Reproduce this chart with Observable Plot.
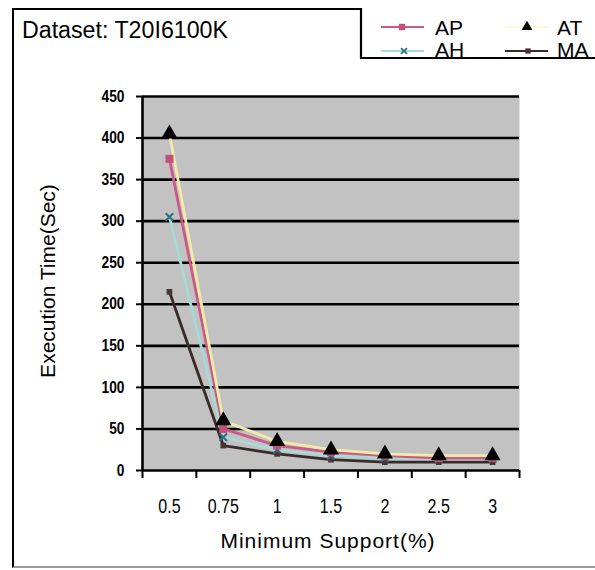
<!DOCTYPE html>
<html>
<head>
<meta charset="utf-8">
<script src="https://cdn.jsdelivr.net/npm/d3@7"></script>
<script src="https://cdn.jsdelivr.net/npm/@observablehq/plot@0.6"></script>
<style>
  html, body { margin: 0; padding: 0; background: #fff; }
  #wrap { position: relative; width: 595px; height: 570px; overflow: hidden; font-family: "Liberation Sans", Arial, sans-serif; }
  #frame { position: absolute; left: 12px; top: 8px; width: 620px; height: 560px; box-sizing: border-box;
           border: 2px solid #000; border-bottom-color: #9a9a9a; }
  #wrap > svg { position: absolute; left: 0; top: 0; }
</style>
</head>
<body>
<div id="wrap"><div id="frame"></div></div>
<script>
// ---- data ----
const categories = ["0.5", "0.75", "1", "1.5", "2", "2.5", "3"];
const seriesNames = ["AP", "AT", "AH", "MA"];
const AP = [375, 50, 30, 22, 18, 15, 15];
const AT = [405, 60, 35, 25, 20, 18, 18];
const AH = [305, 40, 25, 18, 15, 14, 14];
const MA = [215, 30, 20, 13, 10, 10, 10];
const yTicks = [0, 50, 100, 150, 200, 250, 300, 350, 400, 450];
const titleText = "Dataset: T20I6100K";
const xTitle = "Minimum Support(%)";
const yTitle = "Execution Time(Sec)";

// ---- styles ----
const styles = {
  AP: {line: "#cc5a88", marker: "#c44e7c", symbol: "square", r: 4.5, lr: 3.6},
  AT: {line: "#f2eaa6", marker: "#000000", symbol: "triangle", r: 6, lr: 4},
  AH: {line: "#a6dad6", marker: "#2f6f7f", symbol: "times", r: 3.5, lr: 2.8},
  MA: {line: "#3b2a2a", marker: "#4a3434", symbol: "square", r: 3.2, lr: 3}
};
const values = {AP, AT, AH, MA};
const rows = [];
for (const s of seriesNames) values[s].forEach((v, i) => rows.push({series: s, i, cat: categories[i], v}));

const drawOrder = ["MA", "AH", "AP", "AT"];
const lineMarks = drawOrder.map(s => Plot.line(rows.filter(d => d.series === s), {
  x: "i", y: "v", stroke: styles[s].line, strokeWidth: 2.8, curve: "linear"
}));
const dotMarks = drawOrder.map(s => {
  const st = styles[s];
  const isStroke = st.symbol === "times";
  return Plot.dot(rows.filter(d => d.series === s), {
    x: "i", y: "v", symbol: st.symbol, r: st.r,
    fill: isStroke ? "none" : st.marker,
    stroke: isStroke ? st.marker : "none",
    strokeWidth: isStroke ? 2 : 0
  });
});

const chart = Plot.plot({
  width: 595, height: 570,
  marginLeft: 142, marginRight: 76, marginTop: 96, marginBottom: 100,
  x: {type: "linear", domain: [-0.5, categories.length - 0.5]},
  y: {domain: [0, 450]},
  style: {background: "transparent", fontFamily: "'Liberation Sans', Arial, sans-serif", color: "#000", overflow: "visible"},
  marks: [
    Plot.frame({fill: "#c2c2c2", stroke: "none"}),
    Plot.ruleY(yTicks.filter(d => d > 0), {stroke: "#000", strokeWidth: 2.6}),
    ...lineMarks,
    ...dotMarks,
    Plot.ruleY([0], {stroke: "#000", strokeWidth: 2.6}),
    Plot.ruleX([-0.5], {stroke: "#000", strokeWidth: 2.6}),
    Plot.axisY({ticks: yTicks, tickSize: 6, tickPadding: 12, strokeWidth: 2, label: null}),
    Plot.axisX({ticks: d3.range(-0.5, categories.length, 1), tickSize: 8, strokeWidth: 2, tickFormat: () => "", label: null}),
    Plot.axisX({ticks: d3.range(0, categories.length), tickSize: 0, tickPadding: 28,
                tickFormat: i => categories[i], label: null})
  ]
});
document.getElementById("wrap").appendChild(chart);

// font sizes / condensed look of tick labels like the reference
function condense(el, k, anchor) {
  const b = el.getBBox();
  const ax = anchor === "end" ? b.x + b.width : b.x + b.width / 2;
  const t = el.getAttribute("transform") || "";
  el.setAttribute("transform", `${t} translate(${ax},0) scale(${k},1) translate(${-ax},0)`);
}
d3.select(chart).selectAll("text").each(function () {
  const txt = this.textContent;
  if (categories.includes(txt)) {
    this.style.fontSize = "20px";
    condense(this, 0.8, "middle");
  } else if (yTicks.map(String).includes(txt)) {
    this.style.fontSize = "16px";
    this.style.fontWeight = "bold";
    condense(this, 0.86, "end");
  }
});

// ---- overlay: title, legend, axis titles ----
const ov = d3.select("#wrap").append("svg").attr("width", 595).attr("height", 570)
  .style("font-family", "'Liberation Sans', Arial, sans-serif");

ov.append("text").attr("x", 22).attr("y", 38).attr("font-size", 23).attr("textLength", 206)
  .attr("lengthAdjust", "spacingAndGlyphs").text(titleText);

ov.append("text").attr("x", 328).attr("y", 548).attr("font-size", 21).attr("text-anchor", "middle")
  .attr("letter-spacing", 1).text(xTitle);

ov.append("text").attr("transform", "translate(55,281) rotate(-90)").attr("font-size", 21)
  .attr("text-anchor", "middle").text(yTitle);

// legend
const lg = ov.append("g");
lg.append("rect").attr("x", 361).attr("y", 8).attr("width", 260).attr("height", 50)
  .attr("fill", "#fff").attr("stroke", "none");
const legendPos = {
  AP: {lx1: 381, lx2: 424, mx: 402, my: 27, tx: 435, ty: 35},
  AT: {lx1: 505, lx2: 548, mx: 527, my: 27, tx: 557, ty: 35},
  AH: {lx1: 381, lx2: 424, mx: 404, my: 51, tx: 435, ty: 57},
  MA: {lx1: 505, lx2: 548, mx: 528, my: 51, tx: 557, ty: 57}
};
for (const s of seriesNames) {
  const p = legendPos[s], st = styles[s];
  lg.append("line").attr("x1", p.lx1).attr("x2", p.lx2).attr("y1", p.my).attr("y2", p.my)
    .attr("stroke", s === "AT" ? "#fbf7dc" : st.line).attr("stroke-width", 2.2);
  const symType = {square: d3.symbolSquare, triangle: d3.symbolTriangle, times: d3.symbolTimes}[st.symbol];
  const path = d3.symbol(symType, Math.PI * st.lr * st.lr)();
  const sym = lg.append("path").attr("d", path).attr("transform", `translate(${p.mx},${p.my})`);
  if (st.symbol === "times") sym.attr("fill", "none").attr("stroke", st.marker).attr("stroke-width", 1.8);
  else sym.attr("fill", st.marker);
  lg.append("text").attr("x", p.tx).attr("y", p.ty).attr("font-size", 21).text(s);
}
lg.append("path").attr("d", "M361,8 V58 H620").attr("fill", "none").attr("stroke", "#000").attr("stroke-width", 2.2);
</script>
</body>
</html>
